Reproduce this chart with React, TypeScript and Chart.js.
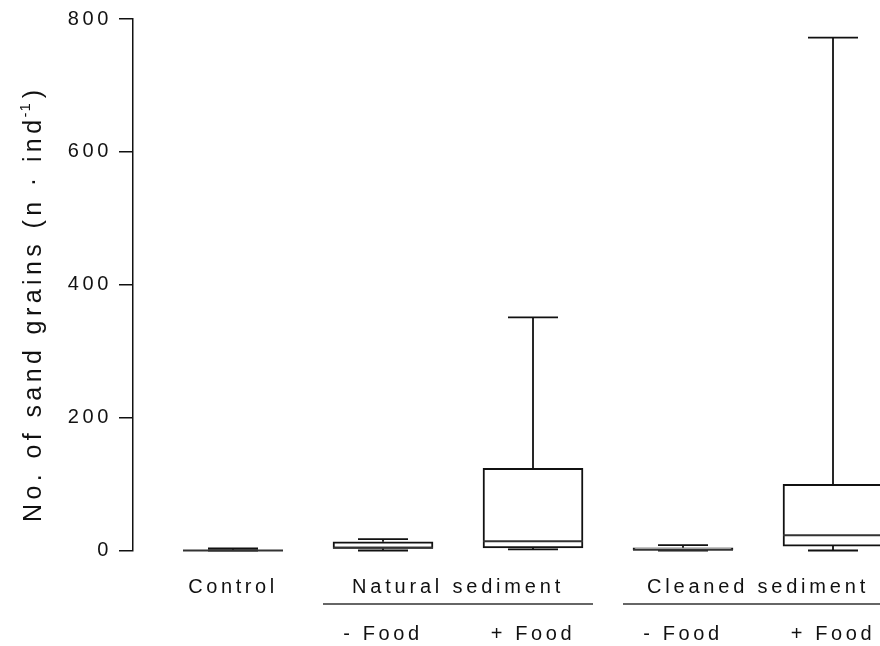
import React, { useEffect, useRef } from 'react';
import { Chart, registerables } from 'chart.js';

Chart.register(...registerables);

// ---------- data ----------
const categories = ['Control', '- Food', '+ Food', '- Food', '+ Food'];
const labelRow = [0, 2, 2, 2, 2];
const groupLabels = ['Natural sediment', 'Cleaned sediment'];
const groupFirst = [1, 3];
const groupLast = [2, 4];

const whiskerMin = [0, 0, 1.8, 0, 0];
const quartile1 = [0, 3.3, 3.7, 0, 6.7];
const medians = [0, 4, 14, 1, 23];
const quartile3 = [0, 13.2, 123.5, 4.2, 99.5];
const whiskerMax = [3.3, 17.2, 351, 8.2, 772];

const yTicks = [0, 200, 400, 600, 800];
const yTitleMain = 'No. of sand grains (n · ind';
const yTitleSup = '-1';
const yTitleEnd = ')';

// ---------- styles ----------
const FONT = '"Liberation Sans", Arial, Helvetica, sans-serif';
const INK = '#111111';

const boxPlotPlugin = {
  id: 'boxWhiskers',
  beforeDraw(chart: any) {
    chart.ctx.letterSpacing = '3.6px';
  },
  afterDatasetsDraw(chart: any) {
    const { ctx } = chart;
    const x = chart.scales.x;
    const y = chart.scales.y;
    const meta = chart.getDatasetMeta(0);
    ctx.save();
    ctx.lineCap = 'butt';
    categories.forEach((_, i) => {
      const cx = x.getPixelForValue(i);
      const half = (meta.data[i] as any).width / 2;
      const capHalf = half / 2;
      const pMin = y.getPixelForValue(whiskerMin[i]);
      const pMax = y.getPixelForValue(whiskerMax[i]);
      const pQ1 = y.getPixelForValue(quartile1[i]);
      const pQ3 = y.getPixelForValue(quartile3[i]);
      const pMed = y.getPixelForValue(medians[i]);
      ctx.strokeStyle = INK;
      ctx.lineWidth = 1.8;
      ctx.beginPath();
      ctx.moveTo(cx, pQ3);
      ctx.lineTo(cx, pMax);
      ctx.moveTo(cx - capHalf, pMax);
      ctx.lineTo(cx + capHalf, pMax);
      ctx.moveTo(cx, pQ1);
      ctx.lineTo(cx, pMin);
      ctx.moveTo(cx - capHalf, pMin);
      ctx.lineTo(cx + capHalf, pMin);
      ctx.stroke();
      ctx.strokeStyle = '#333333';
      ctx.lineWidth = 2;
      ctx.beginPath();
      ctx.moveTo(cx - half, pMed);
      ctx.lineTo(cx + half, pMed);
      ctx.stroke();
    });
    ctx.restore();
  },
  afterDraw(chart: any) {
    const { ctx } = chart;
    const x = chart.scales.x;
    ctx.save();
    // group labels with underline
    ctx.font = `20px ${FONT}`;
    ctx.letterSpacing = '3.8px';
    ctx.fillStyle = INK;
    ctx.textAlign = 'center';
    ctx.textBaseline = 'middle';
    groupLabels.forEach((g, k) => {
      const a = x.getPixelForValue(groupFirst[k] - 0.4);
      const b = x.getPixelForValue(groupLast[k] + 0.4);
      const c = x.getPixelForValue((groupFirst[k] + groupLast[k]) / 2);
      ctx.fillText(g, c, 587.5);
      ctx.strokeStyle = '#333333';
      ctx.lineWidth = 1.5;
      ctx.beginPath();
      ctx.moveTo(a, 604);
      ctx.lineTo(b, 604);
      ctx.stroke();
    });
    // y-axis title (rotated)
    ctx.translate(41, 522);
    ctx.rotate(-Math.PI / 2);
    ctx.textAlign = 'left';
    ctx.textBaseline = 'alphabetic';
    ctx.font = `25px ${FONT}`;
    ctx.letterSpacing = '4.4px';
    ctx.fillText(yTitleMain, 0, 0);
    let w = ctx.measureText(yTitleMain).width;
    ctx.font = `15px ${FONT}`;
    ctx.letterSpacing = '1px';
    ctx.fillText(yTitleSup, w - 2, -11);
    w += ctx.measureText(yTitleSup).width + 2;
    ctx.font = `25px ${FONT}`;
    ctx.letterSpacing = '4.4px';
    ctx.fillText(yTitleEnd, w, 0);
    ctx.restore();
  },
};

export default function App() {
  const ref = useRef<HTMLCanvasElement | null>(null);

  useEffect(() => {
    document.body.style.margin = '0';
    const canvas = ref.current;
    if (!canvas) return;
    const chart = new Chart(canvas, {
      type: 'bar',
      data: {
        datasets: [
          {
            data: categories.map((_, i) => ({ x: i, y: [quartile1[i], quartile3[i]] })) as any,
            backgroundColor: '#ffffff',
            borderColor: INK,
            borderWidth: 2,
            borderSkipped: false,
            barThickness: 100,
          },
        ],
      },
      options: {
        animation: false,
        responsive: true,
        maintainAspectRatio: false,
        layout: { padding: { top: 16, left: 0, right: 0, bottom: 0 } },
        plugins: {
          legend: { display: false },
          tooltip: { enabled: false },
          title: { display: false },
        },
        scales: {
          x: {
            type: 'linear',
            min: -0.6667,
            max: 4.3133,
            offset: false,
            grid: { display: false, drawTicks: false },
            border: { display: false },
            afterBuildTicks: (s: any) => {
              s.ticks = categories.map((_, i) => ({ value: i }));
            },
            afterFit: (s: any) => {
              s.height = 95.5;
              s.paddingLeft = 0;
              s.paddingRight = 0;
            },
            ticks: {
              autoSkip: false,
              maxRotation: 0,
              minRotation: 0,
              padding: 25,
              color: INK,
              font: { family: FONT, size: 20, lineHeight: 1.17 },
              callback: (v: any) => {
                const i = Math.round(Number(v));
                const rows = ['', '', ''];
                rows[labelRow[i]] = categories[i];
                return rows;
              },
            },
          },
          y: {
            type: 'linear',
            min: 0,
            max: 800,
            afterBuildTicks: (s: any) => {
              s.ticks = yTicks.map((v) => ({ value: v }));
            },
            afterFit: (s: any) => {
              s.width = 133;
            },
            grid: {
              display: true,
              drawOnChartArea: false,
              drawTicks: true,
              tickLength: 14,
              color: INK,
              lineWidth: 1.5,
            },
            border: { display: true, color: INK, width: 1.5 },
            ticks: {
              padding: 7,
              color: INK,
              font: { family: FONT, size: 20 },
            },
          },
        },
      },
      plugins: [boxPlotPlugin],
    });
    return () => chart.destroy();
  }, []);

  return (
    <div style={{ position: 'absolute', left: 0, top: 0, width: 880, height: 646, background: '#fff' }}>
      <canvas ref={ref} />
    </div>
  );
}
